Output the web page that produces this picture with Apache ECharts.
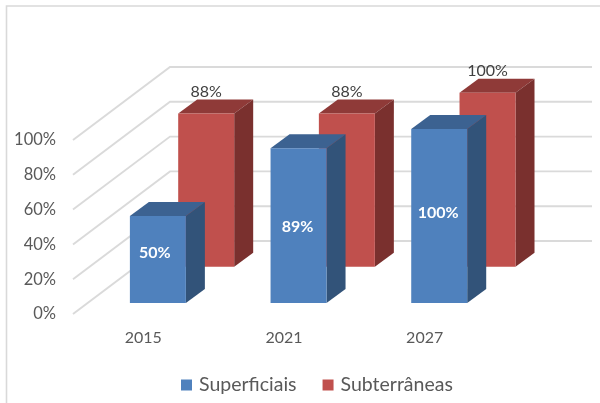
<!DOCTYPE html>
<html>
<head>
<meta charset="utf-8">
<style>html,body{margin:0;padding:0;background:#fff}#c{width:600px;height:403px}</style>
<script src="https://cdn.jsdelivr.net/npm/echarts@6/dist/echarts.min.js"></script>
</head>
<body>
<div id="c"></div>
<script>
var categories = ['2015', '2021', '2027'];
var superficiais = [50, 89, 100];
var subterraneas = [88, 88, 100];
var gridValues = [0, 20, 40, 60, 80, 100];

var FONT = 'Lato';
var FLOOR_DX = 97, FLOOR_DY = -73;   // depth of the 3D floor in pixels
var BAR_DX = 19, BAR_DY = -14;       // depth of one bar
var BAR_FRACTION = 0.398;
var BLUE_DEPTH = 0.15, RED_DEPTH = 0.648;
var blueLabelNudge = [[-3, -7], [-1, 1], [-1, -3]];

function wall(api, params) {
  var v = api.value(0);
  var cs = params.coordSys;
  var y = api.coord([0, v])[1];
  var x0 = cs.x, x1 = x0 + FLOOR_DX, x2 = cs.x + cs.width + FLOOR_DX;
  return {
    type: 'polyline',
    shape: { points: [[x0, y], [x1, y + FLOOR_DY], [x2, y + FLOOR_DY]] },
    style: { stroke: '#dadada', lineWidth: 1.9, fill: null }
  };
}

function bar3d(depth, colors, labelFn) {
  return function (params, api) {
    var i = api.value(0), v = api.value(1);
    var top = api.coord([i, v]), base = api.coord([i, 0]);
    var w = api.size([1, 0])[0] * BAR_FRACTION;
    var ox = depth * FLOOR_DX, oy = depth * FLOOR_DY;
    var l = top[0] + ox - w / 2, r = l + w, t = top[1] + oy, b = base[1] + oy;
    var kids = [
      { type: 'polygon', shape: { points: [[l, t], [r, t], [r + BAR_DX, t + BAR_DY], [l + BAR_DX, t + BAR_DY]] }, style: { fill: colors[1] } },
      { type: 'polygon', shape: { points: [[r, t], [r + BAR_DX, t + BAR_DY], [r + BAR_DX, b + BAR_DY], [r, b]] }, style: { fill: colors[2] } },
      { type: 'rect', shape: { x: l, y: t, width: w, height: b - t }, style: { fill: colors[0] } }
    ];
    kids.push(labelFn(i, v, l, r, t, b));
    return { type: 'group', children: kids };
  };
}

function blueLabel(i, v, l, r, t, b) {
  return { type: 'text', style: {
    text: v + '%', x: (l + r) / 2 + blueLabelNudge[i][0], y: (t + b) / 2 + blueLabelNudge[i][1],
    fill: '#ffffff', font: 'bold 16px ' + FONT, align: 'center', verticalAlign: 'middle' } };
}
function redLabel(i, v, l, r, t, b) {
  return { type: 'text', style: {
    text: v + '%', x: (l + r) / 2, y: t - 21.5,
    fill: '#404040', font: '16px ' + FONT, align: 'center', verticalAlign: 'middle' } };
}

var chart = echarts.init(document.getElementById('c'), null, { renderer: 'canvas' });
chart.setOption({
  animation: false,
  backgroundColor: '#ffffff',
  graphic: [
    { type: 'polyline', shape: { points: [[6.5, 403], [6.5, 6], [600, 6]] }, style: { stroke: '#d9d9d9', lineWidth: 1.6, fill: null }, silent: true }
  ],
  grid: { left: 73, top: 140, width: 422, height: 174 },
  legend: {
    data: ['Superficiais', 'Subterrâneas'],
    left: 181, top: 375, padding: 0,
    icon: 'rect', itemWidth: 11, itemHeight: 11, itemGap: 26,
    textStyle: { fontFamily: FONT, fontSize: 19.5, color: '#595959', padding: [0, 0, 0, 2] }
  },
  xAxis: {
    type: 'category', data: categories,
    axisLine: { show: false }, axisTick: { show: false }, splitLine: { show: false },
    axisLabel: { margin: 16, fontFamily: FONT, fontSize: 16, color: '#595959' }
  },
  yAxis: {
    type: 'value', min: 0, max: 100, interval: 20,
    axisLine: { show: false }, axisTick: { show: false }, splitLine: { show: false },
    axisLabel: { margin: 17, formatter: '{value}%', fontFamily: FONT, fontSize: 16.5, color: '#595959', verticalAlign: 'middle', padding: [5, 0, 0, 0] }
  },
  series: [
    { type: 'custom', name: 'grid', silent: true, clip: false, z: 1,
      data: gridValues.map(function (v) { return [v]; }),
      encode: { y: 0 },
      renderItem: function (params, api) { return wall(api, params); } },
    { type: 'custom', name: 'Subterrâneas', clip: false, z: 2,
      itemStyle: { color: '#c0504d' },
      data: subterraneas.map(function (v, i) { return [i, v]; }),
      encode: { x: 0, y: 1 },
      renderItem: bar3d(RED_DEPTH, ['#c0504d', '#8f3a38', '#7a302e'], redLabel) },
    { type: 'custom', name: 'Superficiais', clip: false, z: 3,
      itemStyle: { color: '#4f81bd' },
      data: superficiais.map(function (v, i) { return [i, v]; }),
      encode: { x: 0, y: 1 },
      renderItem: bar3d(BLUE_DEPTH, ['#4f81bd', '#3c6291', '#325379'], blueLabel) }
  ]
});
</script>
</body>
</html>
